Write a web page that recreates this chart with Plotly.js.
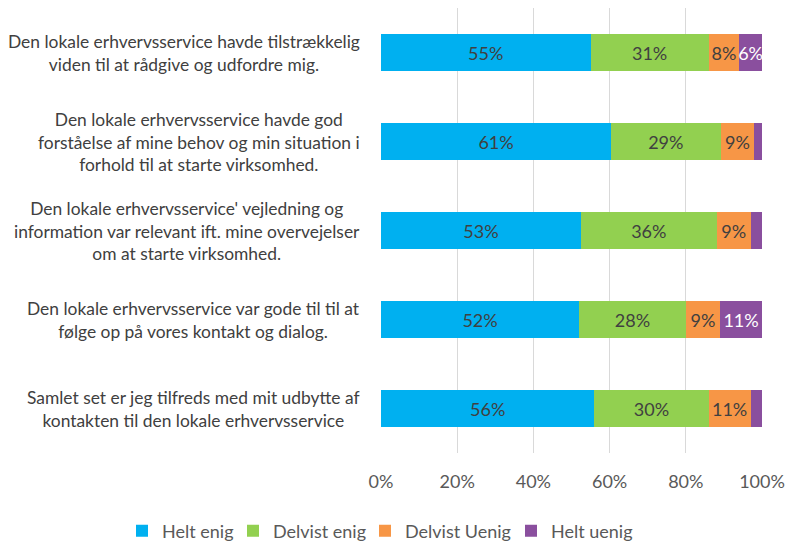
<!DOCTYPE html>
<html>
<head>
<meta charset="utf-8">
<script src="https://cdn.plot.ly/plotly-3.0.1.min.js"></script>
<style>html,body{margin:0;padding:0;background:#fff;}#chart{width:786px;height:541px;}</style>
</head>
<body>
<div id="chart"></div>
<script>
const categories = [
  "Den lokale erhvervsservice havde tilstrækkelig<br>viden til at rådgive og udfordre mig.",
  "Den lokale erhvervsservice havde god<br>forståelse af mine behov og min situation i<br>forhold til at starte virksomhed.",
  "Den lokale erhvervsservice' vejledning og<br>information var relevant ift. mine overvejelser<br>om at starte virksomhed.",
  "Den lokale erhvervsservice var gode til til at<br>følge op på vores kontakt og dialog.",
  "Samlet set er jeg tilfreds med mit udbytte af<br>kontakten til den lokale erhvervsservice"
];
const seriesNames = ["Helt enig", "Delvist enig", "Delvist Uenig", "Helt uenig"];
const heltEnig     = [55, 61, 53, 52, 56];
const delvistEnig  = [31, 29, 36, 28, 30];
const delvistUenig = [8, 9, 9, 9, 11];
const heltUenig    = [6, 2, 3, 11, 3];
const tickVals = [0, 20, 40, 60, 80, 100];
const tickText = ["0%", "20%", "40%", "60%", "80%", "100%"];

const FONT = "Lato, 'Open Sans', sans-serif";
const colors = ["#00B0F0", "#92D050", "#F79646", "#8A4F9E"];
const textColors = ["#404040", "#404040", "#404040", "#FFFFFF"];
const allSeries = [heltEnig, delvistEnig, delvistUenig, heltUenig];
const ids = categories.map((c, i) => "c" + i);
const legendIds = ["legend", "legend2", "legend3", "legend4"];
const legendX = [122, 233, 365, 511];

const traces = allSeries.map((vals, k) => ({
  type: "bar",
  orientation: "h",
  name: seriesNames[k],
  legend: legendIds[k],
  y: ids,
  x: vals,
  text: vals.map(v => v >= 5 ? v + "%" : ""),
  textposition: "inside",
  insidetextanchor: "middle",
  constraintext: "none",
  textangle: 0,
  textfont: {family: FONT, size: 18, color: textColors[k]},
  marker: {color: colors[k], line: {width: 0}},
  hoverinfo: "skip"
}));

const annotations = categories.map((c, i) => ({
  xref: "paper", yref: "y",
  x: -0.05, y: ids[i],
  xanchor: "right", yanchor: "middle",
  align: "center",
  text: c,
  showarrow: false,
  font: {family: FONT, size: 17.4, color: "#404040"}
}));

const layout = {
  width: 786, height: 541,
  margin: {l: 381, r: 24, t: 8, b: 88},
  paper_bgcolor: "#fff", plot_bgcolor: "#fff",
  barmode: "stack",
  barnorm: "percent",
  bargap: 0.595,
  showlegend: true,
  xaxis: {
    range: [0, 100],
    tickvals: tickVals, ticktext: tickText,
    showgrid: true, gridcolor: "#D9D9D9", gridwidth: 1,
    zeroline: false, showline: false,
    tickfont: {family: FONT, size: 18, color: "#595959"},
    ticks: "outside", ticklen: 12, tickcolor: "rgba(0,0,0,0)",
    automargin: false, fixedrange: true
  },
  yaxis: {
    categoryorder: "array", categoryarray: ids.slice().reverse(),
    autorange: true,
    showticklabels: false, showgrid: false, zeroline: false, showline: false,
    automargin: false, fixedrange: true
  },
  annotations: annotations,
  font: {family: FONT}
};

legendIds.forEach((id, k) => {
  layout[id] = {
    orientation: "h",
    xref: "container", yref: "container",
    x: legendX[k] / 786, xanchor: "left",
    y: 1 - 531 / 541, yanchor: "middle",
    font: {family: FONT, size: 18, color: "#595959"},
    bgcolor: "rgba(0,0,0,0)", borderwidth: 0
  };
});

Plotly.newPlot("chart", traces, layout, {displayModeBar: false, staticPlot: true});
</script>
</body>
</html>
